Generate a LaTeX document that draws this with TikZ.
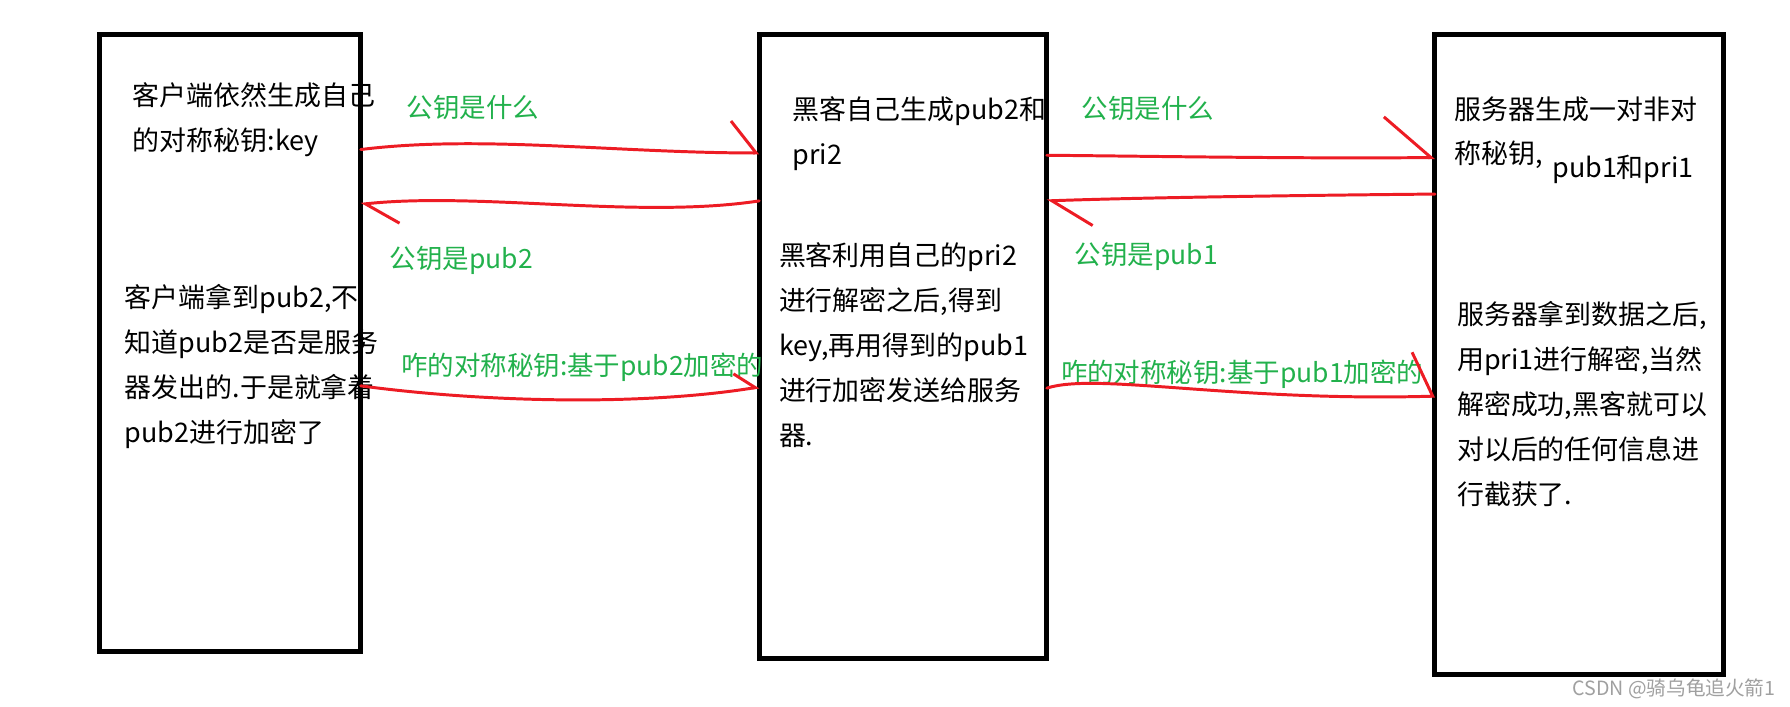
\documentclass[tikz,border=0pt]{standalone}
\usepackage{fontspec}
\newfontfamily\cjk{Noto Sans CJK SC}
\usepackage{xcolor}
\usepackage{tikz}
\usetikzlibrary{arrows.meta}
\definecolor{paintred}{HTML}{ED1C24}
\definecolor{paintgreen}{HTML}{22B14C}
\definecolor{wmgray}{HTML}{A0A0A0}
\tikzset{
  mitmbox/.style={draw,line width=2.2pt,anchor=north west,inner sep=0pt,outer sep=0pt},
  mitmnote/.style={anchor=north west,align=left,inner sep=0pt,font=\cjk\fontsize{11.8}{19.7}\selectfont},
  mitmmsg/.style={anchor=base west,inner sep=0pt,text=paintgreen,font=\cjk\fontsize{11.6}{14}\selectfont},
  mitmarr/.style 2 args={draw=paintred,line width=1.3pt,line cap=round,line join=round,-{Straight Barb[harpoon,length=#1,width=#2]}}
}

\begin{document}
\begin{tikzpicture}[x=0.5pt,y=-0.5pt]
\fill[white] (0,0) rectangle (1568,619);
\node[mitmbox,minimum width=114.5pt,minimum height=270.5pt] (client) at (87,30) {};
\node[mitmbox,minimum width=126pt,minimum height=273.5pt] (hacker) at (665,30) {};
\node[mitmbox,minimum width=126.5pt,minimum height=280.5pt] (server) at (1257,30) {};

\node[mitmnote] (cgen) at (116,72) {客户端依然生成自己\\的对称秘钥:key};
\node[mitmnote] (cenc) at (109,249) {客户端拿到pub2,不\\知道pub2是否是服务\\器发出的.于是就拿着\\pub2进行加密了};
\node[mitmnote] (hgen) at (694,84) {黑客自己生成pub2和\\pri2};
\node[mitmnote] (hdec) at (682,212) {黑客利用自己的pri2\\进行解密之后,得到\\key,再用得到的pub1\\进行加密发送给服务\\器.};
\node[mitmnote] (sgen) at (1274,84) {服务器生成一对非对\\称秘钥,\hspace{4pt}\raisebox{-6pt}{pub1和pri1}};
\node[mitmnote] (sdec) at (1276,263.5) {服务器拿到数据之后,\\用pri1进行解密,当然\\解密成功,黑客就可以\\对以后的任何信息进\\行截获了.};

\node[mitmmsg] (ask1) at (356,102.5) {公钥是什么};
\node[mitmmsg] (give2) at (341,235) {公钥是pub2};
\node[mitmmsg] (sym2) at (351,329) {咋的对称秘钥:基于pub2加密的};
\node[mitmmsg] (ask2) at (947,104) {公钥是什么};
\node[mitmmsg] (give1) at (941,232) {公钥是pub1};
\node[mitmmsg] (sym1) at (929,335) {咋的对称秘钥:基于pub1加密的};

\draw[mitmarr={11pt}{28pt}] (client.east |- 0,131) .. controls (420,118) and (540,134) .. (hacker.west |- 0,134);
\draw[mitmarr={14pt}{20pt}] (hacker.west |- 0,176) .. controls (560,192) and (420,168) .. (client.east |- 0,179);
\draw[mitmarr={20.5pt}{36pt}] (hacker.east |- 0,136) .. controls (1020,137) and (1140,139) .. (server.west |- 0,138);
\draw[mitmarr={17.5pt}{23pt}] (server.west |- 0,170) .. controls (1150,171) and (1000,173) .. (hacker.east |- 0,176);
\draw[mitmarr={8.5pt}{15pt}] (client.east |- 0,338) .. controls (420,352) and (560,356) .. (hacker.west |- 0,339);
\draw[mitmarr={8.5pt}{39pt}] (hacker.east |- 0,340) .. controls (960,326) and (1080,352) .. (server.west |- 0,347);

\node[anchor=west,inner sep=0pt,text=wmgray,font=\cjk\fontsize{8.6}{10}\selectfont] (mark) at (1377,603) {CSDN @骑乌龟追火箭1};
\end{tikzpicture}
\end{document}
